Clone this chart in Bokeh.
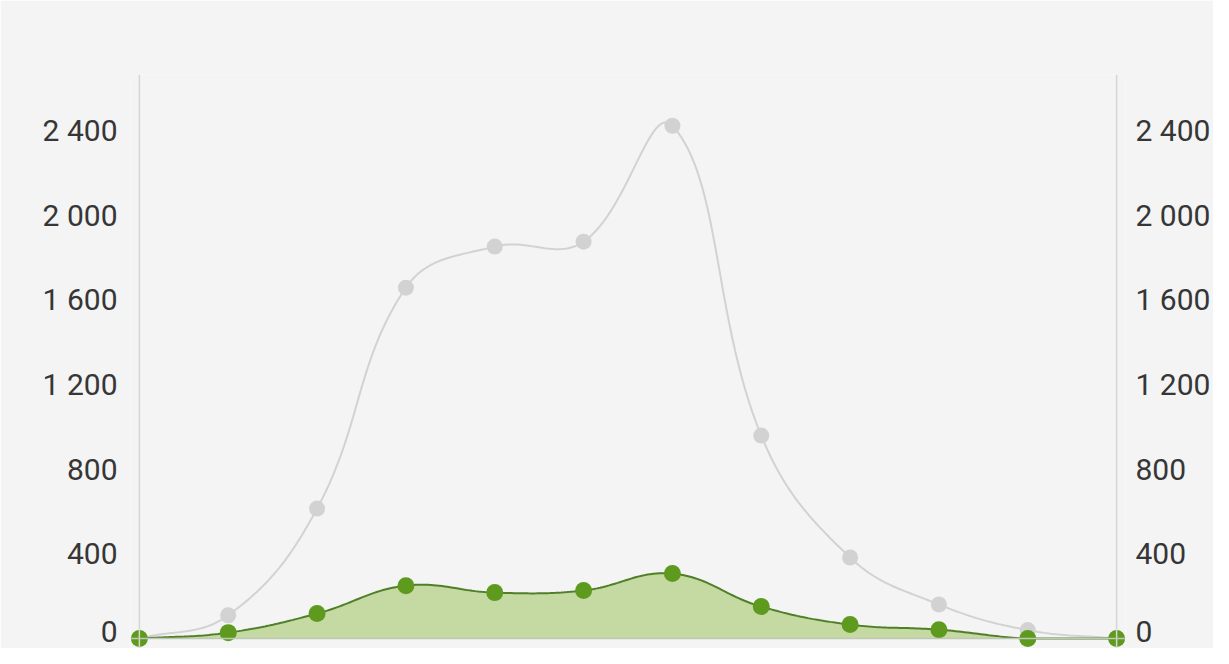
import numpy as np
from bokeh.plotting import figure
from bokeh.models import Range1d, LinearAxis, FixedTicker, Span
from bokeh.embed import file_html
from bokeh.resources import INLINE

# ---- data ----
x_idx = list(range(12))
total_vals = [0, 110, 614, 1658, 1852, 1875, 2423, 959, 383, 161, 40, 0]
green_vals = [0, 28, 118, 250, 217, 227, 307, 151, 66, 42, 0, 0]
tick_vals = [0, 400, 800, 1200, 1600, 2000, 2400]
tick_labels = ["0", "400", "800", "1 200", "1 600", "2 000", "2 400"]

GRAY = "#d2d2d2"
GREEN_PT = "#5e9a1e"
GREEN_LINE = "#4f7f27"
GREEN_FILL = "#c5d9a2"
BG = "#f4f4f4"
TXT = "#363636"

W, H = 1213, 648
ML, MR, MT, MB = 130, 79, 74, 0
X0, X1 = -0.1, 11.1
Y0, Y1 = -47, 2665
sxp = (W - ML - MR) / (X1 - X0)   # px per x unit
syp = (H - MT - MB) / (Y1 - Y0)   # px per y unit


def smooth(xs, ys, tension=0.4, n=30):
    """Tension spline (cardinal bezier, control points capped to the value area), for drawing only."""
    px = np.asarray(xs, float) * sxp
    py = np.asarray(ys, float) * syp
    k = len(px)
    prev_c, next_c = [], []
    for i in range(k):
        p0 = (px[max(i - 1, 0)], py[max(i - 1, 0)])
        p1 = (px[i], py[i])
        p2 = (px[min(i + 1, k - 1)], py[min(i + 1, k - 1)])
        d01 = np.hypot(p1[0] - p0[0], p1[1] - p0[1])
        d12 = np.hypot(p2[0] - p1[0], p2[1] - p1[1])
        tot = d01 + d12
        s01 = d01 / tot if tot else 0
        s12 = d12 / tot if tot else 0
        fa, fb = tension * s01, tension * s12
        pc = [p1[0] - fa * (p2[0] - p0[0]), p1[1] - fa * (p2[1] - p0[1])]
        nc = [p1[0] + fb * (p2[0] - p0[0]), p1[1] + fb * (p2[1] - p0[1])]
        for c in (pc, nc):
            c[0] = min(max(c[0], px[0]), px[-1])
            c[1] = min(max(c[1], 0.0), (Y1) * syp)
        prev_c.append(pc)
        next_c.append(nc)
    ox, oy = [], []
    for i in range(k - 1):
        t = np.linspace(0, 1, n, endpoint=(i == k - 2))
        a = (1 - t) ** 3
        b = 3 * (1 - t) ** 2 * t
        c = 3 * (1 - t) * t ** 2
        d = t ** 3
        ox.extend(a * px[i] + b * next_c[i][0] + c * prev_c[i + 1][0] + d * px[i + 1])
        oy.extend(a * py[i] + b * next_c[i][1] + c * prev_c[i + 1][1] + d * py[i + 1])
    return np.array(ox) / sxp, np.array(oy) / syp


p = figure(
    width=W, height=H,
    output_backend="svg", toolbar_location=None,
    x_range=Range1d(X0, X1), y_range=Range1d(Y0, Y1),
    x_axis_location=None,
    min_border_left=ML, min_border_right=MR, min_border_top=MT, min_border_bottom=MB,
    background_fill_color=BG, border_fill_color=BG,
)
p.outline_line_color = None
p.grid.visible = False

# axis lines at the two ends of the category span
p.add_layout(Span(location=x_idx[0], dimension="height", line_color="#d6d6d6", line_width=1.5))
p.add_layout(Span(location=x_idx[-1], dimension="height", line_color="#d6d6d6", line_width=1.5))

sx, sy = smooth(x_idx, total_vals)
p.line(sx, sy, line_color=GRAY, line_width=2)
p.scatter(x_idx, total_vals, size=16, fill_color=GRAY, line_color=None)

gx, gy = smooth(x_idx, green_vals)
p.varea(x=gx, y1=0, y2=gy, fill_color=GREEN_FILL, fill_alpha=1)
p.add_layout(Span(location=0, dimension="width", line_color="#bfc8b4", line_width=1.5))
p.line(gx, gy, line_color=GREEN_LINE, line_width=2)
p.scatter(x_idx, green_vals, size=17, fill_color=GREEN_PT, line_color=None)

right = LinearAxis()
p.add_layout(right, "right")

overrides = {v: s for v, s in zip(tick_vals, tick_labels)}
for ax, standoff in ((p.yaxis[0], 7), (right, 4)):
    ax.ticker = FixedTicker(ticks=tick_vals)
    ax.major_label_overrides = overrides
    ax.axis_line_color = None
    ax.major_tick_line_color = None
    ax.minor_tick_line_color = None
    ax.major_label_standoff = standoff
    ax.major_label_text_font = "Roboto"
    ax.major_label_text_font_size = "30px"
    ax.major_label_text_color = TXT

open("out.html", "w").write(file_html(p, INLINE))
